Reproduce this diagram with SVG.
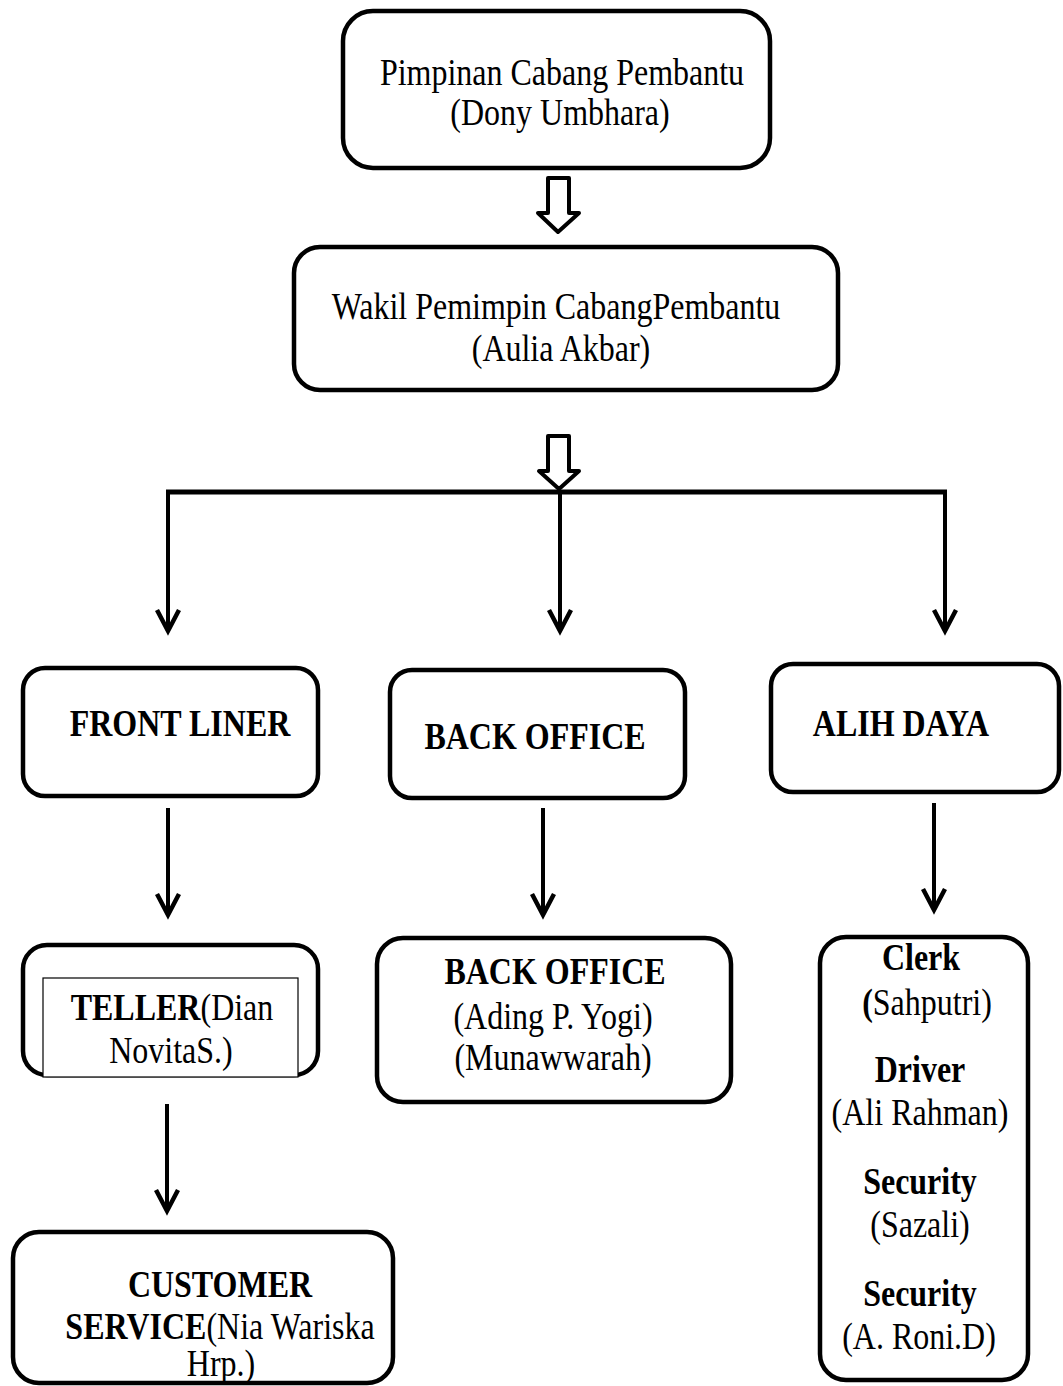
<svg xmlns="http://www.w3.org/2000/svg" width="1063" height="1386" viewBox="0 0 1063 1386">
<style>
.box{fill:#fff;stroke:#000;stroke-width:4.5}
.inner{fill:#fff;stroke:#000;stroke-width:1.2}
.t{font-family:"Liberation Serif","Times New Roman",serif;font-size:32px;fill:#000;text-anchor:middle}
.b{font-weight:bold}
.con{fill:none;stroke:#000;stroke-width:4}
.bar{fill:none;stroke:#000;stroke-width:5}
.hollow{fill:#fff;stroke:#000;stroke-width:4;stroke-linejoin:round}
</style>
<defs>
<marker id="ah" markerUnits="userSpaceOnUse" viewBox="-26 -16 32 32" refX="0" refY="0" markerWidth="32" markerHeight="32" orient="auto">
<path d="M-21,-11 L0,0 L-21,11" fill="none" stroke="#000" stroke-width="4.5" stroke-linejoin="miter"/>
</marker>
</defs>

<g id="connectors">
<polygon class="hollow" points="548,178 569,178 569,213 579,213 558,232 538,213 548,213"/>
<polygon class="hollow" points="548,436 569,436 569,471 579,471 559,489 539,471 548,471"/>
<line class="bar" x1="166" y1="492" x2="947" y2="492"/>
<line class="con" x1="168" y1="490" x2="168" y2="631" marker-end="url(#ah)"/>
<line class="con" x1="560" y1="490" x2="560" y2="631" marker-end="url(#ah)"/>
<line class="con" x1="945" y1="490" x2="945" y2="631" marker-end="url(#ah)"/>
<line class="con" x1="168" y1="808" x2="168" y2="915" marker-end="url(#ah)"/>
<line class="con" x1="543" y1="808" x2="543" y2="915" marker-end="url(#ah)"/>
<line class="con" x1="934" y1="803" x2="934" y2="910" marker-end="url(#ah)"/>
<line class="con" x1="167" y1="1104" x2="167" y2="1211" marker-end="url(#ah)"/>
</g>

<g id="pimpinan">
<rect class="box" x="343" y="11" width="427" height="157" rx="30"/>
<text class="t" transform="translate(562,85) scale(1,1.2)">Pimpinan Cabang Pembantu</text>
<text class="t" transform="translate(560,125) scale(1,1.2)">(Dony Umbhara)</text>
</g>

<g id="wakil">
<rect class="box" x="294" y="247" width="544" height="143" rx="26"/>
<text class="t" transform="translate(556,319) scale(1,1.2)">Wakil Pemimpin CabangPembantu</text>
<text class="t" transform="translate(561,361) scale(1,1.2)">(Aulia Akbar)</text>
</g>

<g id="front-liner">
<rect class="box" x="23" y="668" width="295" height="128" rx="22"/>
<text class="t b" transform="translate(180,736) scale(1,1.2)">FRONT LINER</text>
</g>

<g id="back-office">
<rect class="box" x="390" y="670" width="295" height="128" rx="22"/>
<text class="t b" transform="translate(535,749) scale(1,1.2)">BACK OFFICE</text>
</g>

<g id="alih-daya">
<rect class="box" x="771" y="664" width="288" height="128" rx="22"/>
<text class="t b" transform="translate(901,736) scale(1,1.2)">ALIH DAYA</text>
</g>

<g id="teller">
<rect class="box" x="23" y="945" width="295" height="130" rx="24"/>
<rect class="inner" x="43" y="978" width="255" height="99"/>
<text class="t" transform="translate(172,1020) scale(1,1.2)"><tspan class="b">TELLER</tspan>(Dian</text>
<text class="t" transform="translate(171,1063) scale(1,1.2)">NovitaS.)</text>
</g>

<g id="back-office-staff">
<rect class="box" x="377" y="938" width="354" height="164" rx="26"/>
<text class="t b" transform="translate(555,984) scale(1,1.2)">BACK OFFICE</text>
<text class="t" transform="translate(553,1029) scale(1,1.2)">(Ading P. Yogi)</text>
<text class="t" transform="translate(553,1070) scale(1,1.2)">(Munawwarah)</text>
</g>

<g id="alih-daya-staff">
<rect class="box" x="820" y="937" width="208" height="443" rx="26"/>
<text class="t b" transform="translate(921,970) scale(1,1.2)">Clerk</text>
<text class="t" transform="translate(927,1015) scale(1,1.2)"><tspan class="b">(</tspan>Sahputri)</text>
<text class="t b" transform="translate(920,1082) scale(1,1.2)">Driver</text>
<text class="t" transform="translate(920,1125) scale(1,1.2)">(Ali Rahman)</text>
<text class="t b" transform="translate(920,1194) scale(1,1.2)">Security</text>
<text class="t" transform="translate(920,1237) scale(1,1.2)">(Sazali)</text>
<text class="t b" transform="translate(920,1306) scale(1,1.2)">Security</text>
<text class="t" transform="translate(919,1349) scale(1,1.2)">(A. Roni.D)</text>
</g>

<g id="customer-service">
<rect class="box" x="13" y="1232" width="380" height="151" rx="26"/>
<text class="t b" transform="translate(220,1297) scale(1,1.2)">CUSTOMER</text>
<text class="t" transform="translate(220,1339) scale(1,1.2)"><tspan class="b">SERVICE</tspan>(Nia Wariska</text>
<text class="t" transform="translate(221,1376) scale(1,1.2)">Hrp.)</text>
</g>
</svg>
